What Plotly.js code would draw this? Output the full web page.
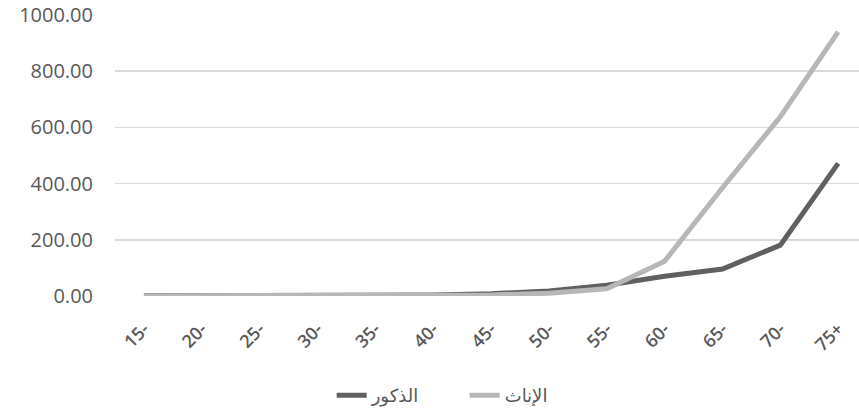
<!DOCTYPE html>
<html>
<head>
<meta charset="utf-8">
<script src="https://cdn.plot.ly/plotly-3.0.1.min.js"></script>
<style>html,body{margin:0;padding:0;background:#fff;}#chart{width:859px;height:414px;}</style>
</head>
<body>
<div id="chart"></div>
<script>
const categories = ["15-","20-","25-","30-","35-","40-","45-","50-","55-","60-","65-","70-","75+"];
const maleValues = [0.5,0.6,0.8,1.2,2,3.5,8,18,38,70,96,181,472];
const femaleValues = [0.2,0.3,0.4,0.6,1,2,4,10,26,124,385,638,940];
const maleName = "الذكور";
const femaleName = "الإناث";
const yTicks = [0,200,400,600,800,1000];
const yTickText = yTicks.map(v => v.toFixed(2));

const traces = [
  {x: categories, y: maleValues, name: maleName, type: "scatter", mode: "lines",
   line: {color: "#606060", width: 5}},
  {x: categories, y: femaleValues, name: femaleName, type: "scatter", mode: "lines",
   line: {color: "#b7b7b7", width: 5}}
];
const layout = {
  width: 859, height: 414,
  margin: {l: 115, r: 0, t: 15, b: 115},
  paper_bgcolor: "#fff", plot_bgcolor: "#fff",
  font: {family: "Open Sans, DejaVu Sans, sans-serif", color: "#595959", size: 18},
  xaxis: {type: "category", range: [-0.5, 12.36], tickangle: -45,
          showgrid: false, zeroline: false, showline: false, ticks: "",
          ticklabelstandoff: 18,
          tickfont: {size: 18, color: "#595959", weight: 600}},
  yaxis: {range: [0, 1000], tickvals: yTicks, ticktext: yTickText,
          showgrid: true, gridcolor: "#d9d9d9", gridwidth: 1.5, zeroline: false,
          showline: false, ticks: "", ticklabelstandoff: 21,
          tickfont: {size: 20, color: "#595959"}},
  showlegend: true,
  legend: {orientation: "h", x: 0.47, xanchor: "center", y: -0.355, yanchor: "middle",
           entrywidth: 88, entrywidthmode: "pixels",
           font: {size: 18, color: "#595959"}, bgcolor: "rgba(0,0,0,0)"}
};
Plotly.newPlot("chart", traces, layout, {displayModeBar: false, staticPlot: true});
</script>
</body>
</html>
